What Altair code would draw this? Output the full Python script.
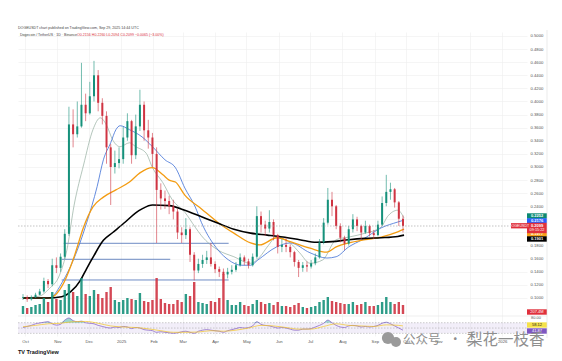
import altair as alt
import pandas as pd
import numpy as np

# ---------------- data ----------------
candle_start = "2024-09-29"
candle_step = "4D"
closes = [0.101,0.098,0.101,0.105,0.110,0.126,0.121,0.150,0.146,0.163,
          0.198,0.365,0.350,0.362,0.395,0.382,0.408,0.440,0.398,0.378,
          0.330,0.300,0.306,0.312,0.345,0.370,0.318,0.362,0.395,0.356,
          0.345,0.320,0.265,0.252,0.248,0.240,0.232,0.200,0.196,0.205,
          0.166,0.142,0.152,0.158,0.162,0.152,0.144,0.140,0.136,0.140,
          0.143,0.150,0.162,0.156,0.150,0.163,0.225,0.212,0.206,0.216,
          0.196,0.178,0.181,0.178,0.170,0.155,0.146,0.150,0.148,0.153,
          0.162,0.185,0.215,0.250,0.240,0.210,0.192,0.183,0.205,0.220,
          0.210,0.200,0.210,0.199,0.196,0.212,0.245,0.262,0.266,0.246,
          0.221,0.210]
highs = [0.106,0.104,0.104,0.108,0.114,0.131,0.129,0.160,0.162,0.168,
         0.205,0.392,0.388,0.400,0.459,0.412,0.430,0.462,0.448,0.405,
         0.385,0.335,0.325,0.330,0.362,0.382,0.372,0.380,0.418,0.400,
         0.372,0.352,0.330,0.275,0.264,0.256,0.250,0.236,0.208,0.222,
         0.208,0.170,0.160,0.166,0.172,0.184,0.156,0.148,0.145,0.146,
         0.150,0.155,0.168,0.165,0.160,0.168,0.240,0.232,0.218,0.234,
         0.220,0.198,0.190,0.192,0.182,0.172,0.158,0.155,0.156,0.158,
         0.168,0.190,0.222,0.268,0.262,0.242,0.214,0.195,0.210,0.228,
         0.224,0.212,0.218,0.212,0.204,0.218,0.255,0.288,0.276,0.268,
         0.248,0.226]
lows = [0.097,0.094,0.096,0.100,0.104,0.108,0.115,0.118,0.138,0.140,
        0.160,0.195,0.330,0.345,0.360,0.370,0.380,0.400,0.385,0.365,
        0.305,0.242,0.290,0.298,0.305,0.340,0.305,0.312,0.355,0.340,
        0.328,0.300,0.184,0.235,0.236,0.228,0.220,0.190,0.184,0.190,
        0.155,0.127,0.138,0.146,0.152,0.148,0.138,0.132,0.123,0.130,
        0.136,0.140,0.148,0.150,0.145,0.148,0.160,0.200,0.195,0.200,
        0.188,0.168,0.170,0.170,0.162,0.148,0.132,0.140,0.140,0.145,
        0.150,0.160,0.182,0.212,0.225,0.205,0.185,0.173,0.180,0.200,
        0.202,0.189,0.198,0.194,0.190,0.194,0.210,0.240,0.250,0.238,
        0.210,0.200]
first_open = 0.100
volumes = [8,6,7,9,10,16,12,22,15,14,
           24,30,22,18,36,20,18,24,20,16,
           22,27,14,12,14,16,15,14,21,13,
           12,14,36,15,11,10,10,14,12,20,
           18,32,12,11,10,13,12,16,40,14,
           9,9,12,9,8,10,14,12,10,11,
           9,12,8,8,7,9,11,7,6,7,
           8,12,14,17,13,12,11,10,10,12,
           9,10,12,8,8,9,12,17,12,10,
           12,9]
rsi_values = [52,56,60,66,69,72,74,66,61,64,
              80,88,78,74,76,70,68,66,60,56,
              52,50,54,52,56,54,48,52,50,44,
              42,40,34,36,34,32,30,32,36,38,
              34,30,38,42,44,42,40,38,34,40,
              44,48,52,50,52,58,74,64,60,58,
              54,50,52,50,46,42,42,46,46,48,
              54,60,68,80,70,60,54,52,58,60,
              58,54,56,54,56,60,68,72,66,58,
              50,42]
rsi_ma_dates = ["2024-09-29","2024-10-11","2024-10-23","2024-11-04","2024-11-16","2024-11-28",
                "2024-12-10","2024-12-22","2025-01-03","2025-01-15","2025-01-27","2025-02-08",
                "2025-02-20","2025-03-04","2025-03-16","2025-03-28","2025-04-09","2025-04-21",
                "2025-05-03","2025-05-15","2025-05-27","2025-06-08","2025-06-20","2025-07-02",
                "2025-07-14","2025-07-26","2025-08-07","2025-08-19","2025-08-31","2025-09-12",
                "2025-09-24","2025-09-28"]
rsi_ma_values = [55,60,66,68,74,75,68,58,54,52,47,40,34,34,35,40,38,42,50,60,58,52,46,46,56,66,60,58,56,62,60,58]

ma20_dates = ["2024-09-29","2024-10-15","2024-10-24","2024-11-03","2024-11-10","2024-11-17","2024-11-26",
              "2024-12-05","2024-12-12","2024-12-18","2024-12-24","2024-12-31","2025-01-09","2025-01-15",
              "2025-01-25","2025-01-31","2025-02-10","2025-02-19","2025-03-03","2025-03-13","2025-03-19",
              "2025-04-04","2025-04-19","2025-05-05","2025-05-14","2025-05-21","2025-05-30","2025-06-12",
              "2025-06-21","2025-07-01","2025-07-13","2025-07-26","2025-08-07","2025-08-23","2025-09-07",
              "2025-09-13","2025-09-23","2025-09-29"]
ma20_values = [0.100,0.103,0.114,0.135,0.173,0.242,0.303,0.357,0.375,0.364,0.341,0.331,0.337,0.331,
               0.321,0.299,0.276,0.250,0.231,0.208,0.195,0.173,0.163,0.153,0.163,0.178,0.193,0.184,
               0.169,0.153,0.158,0.189,0.193,0.199,0.208,0.224,0.234,0.222]
ma50_dates = ["2024-09-29","2024-10-24","2024-11-07","2024-11-20","2024-11-29","2024-12-09","2024-12-15",
              "2024-12-22","2024-12-27","2024-12-31","2025-01-09","2025-01-21","2025-01-31","2025-02-12",
              "2025-02-22","2025-03-03","2025-03-13","2025-03-19","2025-04-04","2025-04-14","2025-04-26",
              "2025-05-05","2025-05-12","2025-05-30","2025-06-12","2025-07-01","2025-07-17","2025-07-26",
              "2025-08-07","2025-08-20","2025-09-07","2025-09-23","2025-09-29"]
ma50_values = [0.100,0.100,0.128,0.173,0.215,0.270,0.311,0.337,0.357,0.363,0.357,0.346,0.331,0.311,
               0.299,0.268,0.239,0.215,0.173,0.158,0.150,0.150,0.158,0.178,0.184,0.169,0.161,0.163,
               0.178,0.189,0.207,0.216,0.219]
ma100_dates = ["2024-09-29","2024-10-24","2024-11-07","2024-11-17","2024-11-26","2024-12-05","2024-12-15",
               "2024-12-27","2025-01-09","2025-01-19","2025-01-31","2025-02-10","2025-02-16","2025-02-22",
               "2025-03-03","2025-03-19","2025-04-04","2025-04-19","2025-05-05","2025-05-14","2025-05-30",
               "2025-06-12","2025-07-01","2025-07-17","2025-07-26","2025-08-07","2025-08-23","2025-09-07",
               "2025-09-23","2025-09-29"]
ma100_values = [0.100,0.100,0.123,0.163,0.208,0.239,0.254,0.265,0.277,0.291,0.299,0.288,0.280,0.277,
                0.257,0.236,0.215,0.199,0.184,0.181,0.192,0.186,0.176,0.170,0.178,0.184,0.189,0.193,
                0.201,0.205]
ma200_dates = ["2024-09-29","2024-10-22","2024-11-05","2024-11-14","2024-11-23","2024-11-29","2024-12-05",
               "2024-12-15","2024-12-24","2025-01-05","2025-01-15","2025-01-21","2025-01-31","2025-02-16",
               "2025-03-03","2025-03-19","2025-04-04","2025-04-19","2025-05-05","2025-05-21","2025-06-05",
               "2025-06-21","2025-07-07","2025-07-22","2025-08-07","2025-08-23","2025-09-07","2025-09-23",
               "2025-09-29"]
ma200_values = [0.100,0.100,0.102,0.110,0.127,0.145,0.162,0.188,0.200,0.216,0.230,0.236,0.242,0.241,
                0.234,0.224,0.214,0.205,0.199,0.196,0.193,0.189,0.185,0.186,0.189,0.191,0.192,0.194,
                0.196]

level_values = [0.1835, 0.1591, 0.1275]
level_starts = ["2024-11-07", "2024-11-05", "2024-11-05"]
level_ends = ["2025-04-14", "2025-02-17", "2025-04-14"]

last_price = 0.2099
price_ticks = [0.10,0.12,0.14,0.16,0.18,0.20,0.22,0.24,0.26,0.28,0.30,0.32,0.34,0.36,0.38,0.40,0.42,0.44,0.46,0.48,0.50]

tag_labels = ["0.2252", "0.2176", "0.1977", "0.1901"]
tag_values = [0.2252, 0.2176, 0.1977, 0.1901]
tag_colors = ["#0b8a72", "#2962ff", "#f7a21b", "#000000"]

# ---------------- frames ----------------
dates = pd.date_range(candle_start, periods=len(closes), freq=candle_step)
opens = [first_open] + closes[:-1]
df = pd.DataFrame({"date": dates, "open": opens, "high": highs, "low": lows,
                   "close": closes, "volume": volumes, "rsi": rsi_values})
df["dir"] = np.where(df["close"] >= df["open"], "up", "down")
df["zero"] = 0

FONT = "Liberation Sans"
xscale = alt.Scale(domain=[alt.DateTime(year=2024, month=9, date=29),
                           alt.DateTime(year=2026, month=1, date=20)])
month_vals = [alt.DateTime(year=y, month=m, date=1) for (y, m) in
              [(2024,10),(2024,11),(2024,12),(2025,1),(2025,2),(2025,3),(2025,4),(2025,5),(2025,6),
               (2025,7),(2025,8),(2025,9),(2025,10),(2025,11),(2025,12),(2026,1)]]
xaxis = alt.Axis(values=month_vals, title=None, ticks=False, domain=False,
                 labelExpr="month(datum.value) == 0 ? timeFormat(datum.value, '%Y') : timeFormat(datum.value, '%b')",
                 labelFontSize=4.2, labelColor="#555", labelFont=FONT, labelPadding=3,
                 gridColor="#eeeeee", gridWidth=0.6)
X = alt.X("date:T", scale=xscale, axis=xaxis)

pscale = alt.Scale(domain=[0.04198, 0.5061], nice=False, zero=False)
paxis = alt.Axis(orient="right", values=price_ticks, format=".4f", title=None, ticks=False,
                 domain=False, labelFontSize=4.2, labelColor="#555", labelFont=FONT,
                 labelPadding=3, gridColor="#eeeeee", gridWidth=0.6)
vscale = alt.Scale(domain=[-22, 282], nice=False, zero=False)
rscale = alt.Scale(domain=[20, 1167], nice=False, zero=False)

color_scale = alt.Scale(domain=["up", "down"], range=["#16917b", "#cf3442"])
vol_color = alt.Scale(domain=["up", "down"], range=["#8fd3c7", "#f4b3b9"])

base = alt.Chart(df)

# price pane
grid_layer = base.mark_rule(opacity=0).encode(x=X, y=alt.Y("close:Q", scale=pscale, axis=paxis))
wicks = base.mark_rule(strokeWidth=0.6).encode(
    x=X, y=alt.Y("low:Q", scale=pscale, axis=paxis), y2="high:Q",
    color=alt.Color("dir:N", scale=color_scale, legend=None))
bodies = base.mark_bar(size=2).encode(
    x=X, y=alt.Y("open:Q", scale=pscale, axis=paxis), y2="close:Q",
    color=alt.Color("dir:N", scale=color_scale, legend=None))

def ma_layer(d, v, color, width, dash=None):
    frame = pd.DataFrame({"date": pd.to_datetime(d), "v": v})
    kw = dict(color=color, strokeWidth=width, interpolate="monotone")
    if dash:
        kw["strokeDash"] = dash
    return alt.Chart(frame).mark_line(**kw).encode(
        x=X, y=alt.Y("v:Q", scale=pscale, axis=paxis))

ma20 = ma_layer(ma20_dates, ma20_values, "#93ad9f", 0.7)
ma50 = ma_layer(ma50_dates, ma50_values, "#3d6fd6", 0.8)
ma100 = ma_layer(ma100_dates, ma100_values, "#f39c12", 1.3)
ma200 = ma_layer(ma200_dates, ma200_values, "#000000", 1.6)

lv = pd.DataFrame({"s": pd.to_datetime(level_starts), "e": pd.to_datetime(level_ends), "v": level_values})
levels = alt.Chart(lv).mark_rule(color="#4a6fb5", strokeWidth=0.8).encode(
    x=alt.X("s:T", scale=xscale, axis=xaxis), x2="e:T", y=alt.Y("v:Q", scale=pscale, axis=paxis))

lp = pd.DataFrame({"v": [last_price]})
last_line = alt.Chart(lp).mark_rule(color="#9a9a9a", strokeDash=[1.5, 1.5], strokeWidth=0.6).encode(
    y=alt.Y("v:Q", scale=pscale, axis=paxis), x=alt.value(0), x2=alt.value(509))

tag_path = "M-1,-0.27L1,-0.27L1,0.27L-1,0.27Z"
tags = pd.DataFrame({"label": tag_labels, "v": tag_values, "c": tag_colors})
tag_boxes = alt.Chart(tags).mark_point(shape=tag_path, filled=True, size=400, opacity=1).encode(
    y=alt.Y("v:Q", scale=pscale, axis=paxis), x=alt.value(519),
    color=alt.Color("c:N", scale=None))
tag_text = alt.Chart(tags).mark_text(fontSize=4, color="white", fontWeight="bold", font=FONT).encode(
    y=alt.Y("v:Q", scale=pscale, axis=paxis), x=alt.value(519), text="label:N")

red_tag = pd.DataFrame({"v": [0.2069], "t1": ["0.2099"], "t2": ["09:15:22"], "v1": [0.2103], "v2": [0.2035]})
red_box = alt.Chart(red_tag).mark_point(shape="M-1,-0.52L1,-0.52L1,0.52L-1,0.52Z", filled=True,
                                        size=400, opacity=1, color="#e0303c").encode(
    y=alt.Y("v:Q", scale=pscale, axis=paxis), x=alt.value(519))
red_t1 = alt.Chart(red_tag).mark_text(fontSize=4, color="white", fontWeight="bold", font=FONT).encode(
    y=alt.Y("v1:Q", scale=pscale, axis=paxis), x=alt.value(519), text="t1:N")
red_t2 = alt.Chart(red_tag).mark_text(fontSize=3.8, color="white", font=FONT).encode(
    y=alt.Y("v2:Q", scale=pscale, axis=paxis), x=alt.value(519), text="t2:N")
sym_box = alt.Chart(red_tag).mark_point(shape="M-1,-0.33L1,-0.33L1,0.33L-1,0.33Z", filled=True,
                                        size=256, opacity=1, color="#e0303c").encode(
    y=alt.Y("v1:Q", scale=pscale, axis=paxis), x=alt.value(501))
sym_text = alt.Chart(pd.DataFrame({"v": [0.2103], "t": ["DOGEUSDT"]})).mark_text(
    fontSize=3.6, color="white", font=FONT).encode(
    y=alt.Y("v:Q", scale=pscale, axis=paxis), x=alt.value(501), text="t:N")

price = alt.layer(grid_layer, levels, ma20, ma50, ma100, ma200, wicks, bodies, last_line,
                  tag_boxes, tag_text, red_box, red_t1, red_t2, sym_box, sym_text)

# volume pane
vol_bars = base.mark_bar(size=2.4, opacity=0.9).encode(
    x=X, y=alt.Y("volume:Q", scale=vscale, axis=None), y2="zero:Q",
    color=alt.Color("dir:N", scale=vol_color, legend=None))
vtag = pd.DataFrame({"v": [2], "t": ["207.4M"]})
vol_box = alt.Chart(vtag).mark_point(shape=tag_path, filled=True, size=400, opacity=1, color="#e0303c").encode(
    y=alt.Y("v:Q", scale=vscale, axis=None), x=alt.value(519))
vol_txt = alt.Chart(vtag).mark_text(fontSize=4, color="white", font=FONT).encode(
    y=alt.Y("v:Q", scale=vscale, axis=None), x=alt.value(519), text="t:N")
volume = alt.layer(vol_bars, vol_box, vol_txt)

# RSI pane
band = alt.Chart(pd.DataFrame({"a": [70], "b": [30]})).mark_rect(color="#7e57c2", opacity=0.1).encode(
    y=alt.Y("a:Q", scale=rscale, axis=None), y2="b:Q", x=alt.value(0), x2=alt.value(509))
rsi_lines_df = pd.DataFrame({"v": [70, 50, 30]})
rsi_rules = alt.Chart(rsi_lines_df).mark_rule(color="#9a9a9a", strokeDash=[1.5, 1.5], strokeWidth=0.5).encode(
    y=alt.Y("v:Q", scale=rscale, axis=None), x=alt.value(0), x2=alt.value(509))
ob = base.transform_calculate(hi="max(datum.rsi, 70)", base70="70").mark_area(
    color="#26a69a", opacity=0.45, interpolate="monotone").encode(
    x=X, y=alt.Y("hi:Q", scale=rscale, axis=None), y2="base70:Q")
rsi_line = base.mark_line(color="#7e57c2", strokeWidth=0.7, interpolate="monotone").encode(
    x=X, y=alt.Y("rsi:Q", scale=rscale, axis=None))
rma = pd.DataFrame({"date": pd.to_datetime(rsi_ma_dates), "v": rsi_ma_values})
rsi_ma = alt.Chart(rma).mark_line(color="#f3c622", strokeWidth=0.7, interpolate="monotone").encode(
    x=X, y=alt.Y("v:Q", scale=rscale, axis=None))
rtags = pd.DataFrame({"v": [61.5, 38.9], "t": ["58.12", "41.87"], "c": ["#f5e14a", "#7e57c2"],
                      "tc": ["#222222", "#ffffff"]})
rtag_boxes = alt.Chart(rtags).mark_point(shape=tag_path, filled=True, size=400, opacity=1).encode(
    y=alt.Y("v:Q", scale=rscale, axis=None), x=alt.value(519), color=alt.Color("c:N", scale=None))
rtag_text = alt.Chart(rtags).mark_text(fontSize=4, font=FONT).encode(
    y=alt.Y("v:Q", scale=rscale, axis=None), x=alt.value(519), text="t:N",
    color=alt.Color("tc:N", scale=None))
r80 = alt.Chart(pd.DataFrame({"v": [87], "t": ["80.00"]})).mark_text(
    fontSize=4.0, color="#555", font=FONT, align="left").encode(
    y=alt.Y("v:Q", scale=rscale, axis=None), x=alt.value(513), text="t:N")
rsi = alt.layer(band, rsi_rules, ob, rsi_line, rsi_ma, rtag_boxes, rtag_text, r80)

# frame, separators, texts
deco = pd.DataFrame({"k": [0]})
def vrule(xv, y0, y1, color="#dddddd"):
    return alt.Chart(deco).mark_rule(color=color, strokeWidth=0.6).encode(
        x=alt.value(xv), y=alt.value(y0), y2=alt.value(y1))
def hrule(yv, x0, x1, color="#dddddd"):
    return alt.Chart(deco).mark_rule(color=color, strokeWidth=0.6).encode(
        y=alt.value(yv), x=alt.value(x0), x2=alt.value(x1))

def txt(s, xv, yv, size, color="#333", weight="normal", font=FONT, align="left"):
    return alt.Chart(deco).mark_text(fontSize=size, color=color, fontWeight=weight, font=font,
                                     align=align, baseline="middle").encode(
        x=alt.value(xv), y=alt.value(yv), text=alt.value(s))

header1 = txt("DOGEUSDT chart published on TradingView.com, Sep 29, 2025 14:44 UTC", 0, -4, 3.6, "#444")
header2 = txt("Dogecoin / TetherUS · 1D · Binance", 2, 3, 3.6, "#444")
header3 = txt("O0.2156  H0.2260  L0.2094  C0.2099  −0.0065 (−3.00%)", 59, 3, 3.6, "#d8323e")
logo = txt("TV TradingView", 0, 320, 5.5, "#111", "bold")

wm_icon = alt.Chart(pd.DataFrame({"px": [370, 378], "py": [306, 310], "s": [150, 100]})).mark_point(
    filled=True, color="#9a9a9a", opacity=1, shape="circle").encode(
    x=alt.X("px:Q", scale=None), y=alt.Y("py:Q", scale=None), size=alt.Size("s:Q", scale=None, legend=None))
wm1 = txt("公众号", 385, 308, 12.5, "#8e8e8e", font="Noto Sans CJK SC")
wm2 = txt("·", 431, 308, 12.5, "#8e8e8e", font="Noto Sans CJK SC")
wm3 = txt("梨花一枝香", 449, 308, 15.5, "#8e8e8e", font="Noto Sans CJK SC")

chart = alt.layer(
    price, volume, rsi,
    vrule(529, -2, 306), hrule(284, 0, 529, "#e4e4e4"),
    header1, header2, header3, logo, wm_icon, wm1, wm2, wm3
).resolve_scale(y="independent", x="shared").properties(
    width=509, height=304,
    autosize=alt.AutoSizeParams(type="none"),
    padding={"left": 10, "top": 24, "right": 27, "bottom": 30},
    background="white"
).configure_view(stroke=None)

chart.save("out.html", embed_options={"renderer": "svg", "actions": False})
